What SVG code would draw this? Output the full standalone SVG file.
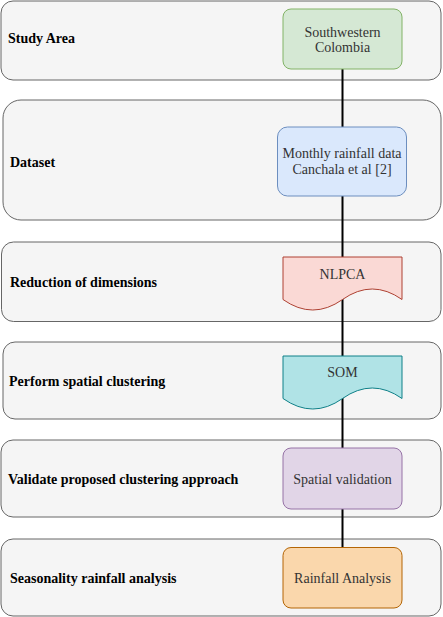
<svg xmlns="http://www.w3.org/2000/svg" width="443" height="617" viewBox="0 0 443 617">
<style>
.lane{fill:#f5f5f5;stroke:#666666;stroke-width:1}
.lbl{font-family:"Liberation Serif","Times New Roman",serif;font-size:14px;font-weight:bold;fill:#000}
.nt{font-family:"Liberation Serif","Times New Roman",serif;font-size:14px;fill:#333333;text-anchor:middle}
.conn{stroke:#000;stroke-width:2;fill:none}
</style>
<rect x="0" y="0" width="443" height="617" fill="#ffffff"/>
<g id="lanes">
<g id="lane1"><rect class="lane" x="1" y="1" width="440" height="79" rx="12"/><text class="lbl" x="8" y="43">Study Area</text></g>
<g id="lane2"><rect class="lane" x="3" y="100" width="438" height="120" rx="18"/><text class="lbl" x="10" y="167">Dataset</text></g>
<g id="lane3"><rect class="lane" x="1.5" y="242" width="439.5" height="79.5" rx="12"/><text class="lbl" x="10" y="287">Reduction of dimensions</text></g>
<g id="lane4"><rect class="lane" x="3" y="342" width="438" height="77" rx="12"/><text class="lbl" x="9" y="386">Perform spatial clustering</text></g>
<g id="lane5"><rect class="lane" x="1" y="440" width="440" height="77" rx="12"/><text class="lbl" x="8" y="484">Validate proposed clustering approach</text></g>
<g id="lane6"><rect class="lane" x="1" y="539" width="440" height="77" rx="12"/><text class="lbl" x="10" y="583">Seasonality rainfall analysis</text></g>
</g>
<g id="connectors">
<line class="conn" x1="342.5" y1="69" x2="342.5" y2="547"/>
</g>
<g id="n1"><rect x="283" y="9" width="119" height="60" rx="8" fill="#d5e8d4" stroke="#82b366"/><text class="nt" x="342.5" y="37">Southwestern</text><text class="nt" x="342.5" y="52">Colombia</text></g>
<g id="n2"><rect x="277.5" y="127" width="129" height="69" rx="10" fill="#dae8fc" stroke="#6c8ebf"/><text class="nt" x="342" y="158">Monthly rainfall data</text><text class="nt" x="342" y="174">Canchala et al [2]</text></g>
<g id="n3"><path d="M283,257 L402,257 L402,299.5 Q372.25,278.5 342.5,299.5 Q312.75,320.5 283,299.5 Z" fill="#fad9d5" stroke="#ae4132"/><text class="nt" x="342.5" y="279">NLPCA</text></g>
<g id="n4"><path d="M283,356 L402,356 L402,398.5 Q372.25,377.5 342.5,398.5 Q312.75,419.5 283,398.5 Z" fill="#b0e3e6" stroke="#0e8088"/><text class="nt" x="342.5" y="377">SOM</text></g>
<g id="n5"><rect x="283" y="448" width="119" height="61" rx="8" fill="#e1d5e7" stroke="#9673a6"/><text class="nt" x="342.5" y="484">Spatial validation</text></g>
<g id="n6"><rect x="283" y="547.5" width="119" height="60.5" rx="8" fill="#fad7ac" stroke="#b46504"/><text class="nt" x="342.5" y="583">Rainfall Analysis</text></g>
</svg>
